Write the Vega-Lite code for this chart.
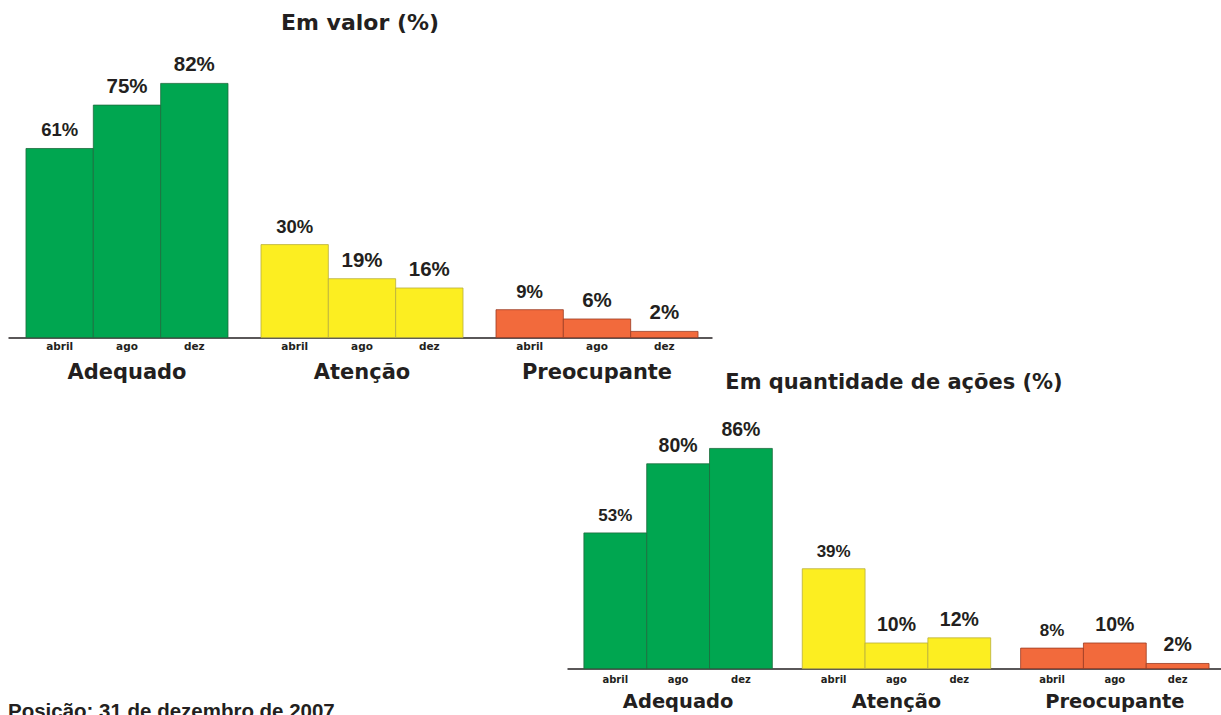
{
  "$schema": "https://vega.github.io/schema/vega-lite/v6.json",
  "padding": {"left": 8, "top": 11.6, "right": 0, "bottom": 0},
  "background": "white",
  "config": {
    "view": {"stroke": null},
    "font": "DejaVu Sans",
    "text": {"font": "DejaVu Sans", "fontWeight": "bold", "color": "#231f20"}
  },
  "datasets": {
    "bars": [
      {"panel": "valor", "group": "Adequado", "month": "abril", "value": 0.61},
      {"panel": "valor", "group": "Adequado", "month": "ago", "value": 0.75},
      {"panel": "valor", "group": "Adequado", "month": "dez", "value": 0.82},
      {"panel": "valor", "group": "Atenção", "month": "abril", "value": 0.30},
      {"panel": "valor", "group": "Atenção", "month": "ago", "value": 0.19},
      {"panel": "valor", "group": "Atenção", "month": "dez", "value": 0.16},
      {"panel": "valor", "group": "Preocupante", "month": "abril", "value": 0.09},
      {"panel": "valor", "group": "Preocupante", "month": "ago", "value": 0.06},
      {"panel": "valor", "group": "Preocupante", "month": "dez", "value": 0.02},
      {"panel": "qtd", "group": "Adequado", "month": "abril", "value": 0.53},
      {"panel": "qtd", "group": "Adequado", "month": "ago", "value": 0.80},
      {"panel": "qtd", "group": "Adequado", "month": "dez", "value": 0.86},
      {"panel": "qtd", "group": "Atenção", "month": "abril", "value": 0.39},
      {"panel": "qtd", "group": "Atenção", "month": "ago", "value": 0.10},
      {"panel": "qtd", "group": "Atenção", "month": "dez", "value": 0.12},
      {"panel": "qtd", "group": "Preocupante", "month": "abril", "value": 0.08},
      {"panel": "qtd", "group": "Preocupante", "month": "ago", "value": 0.10},
      {"panel": "qtd", "group": "Preocupante", "month": "dez", "value": 0.02}
    ],
    "note": [{"t": "Posição: 31 de dezembro de 2007"}]
  },
  "bounds": "flush",
  "spacing": 75,
  "resolve": {"scale": {"x": "independent", "xOffset": "independent", "y": "independent"}},
  "vconcat": [
    {
      "width": 704,
      "height": 310,
      "data": {"name": "bars"},
      "transform": [{"filter": "datum.panel == 'valor'"}],
      "title": {"text": "Em valor (%)", "anchor": "middle", "frame": "group", "fontSize": 22, "font": "DejaVu Sans", "fontWeight": "bold", "color": "#231f20", "offset": -7.6},
      "encoding": {
        "x": {
          "field": "group", "type": "nominal", "sort": ["Adequado", "Atenção", "Preocupante"],
          "scale": {"paddingInner": 0.1404, "paddingOuter": 0.068, "align": 0.5625},
          "axis": {"title": null, "ticks": false, "tickSize": 0, "labelAngle": 0, "labelPadding": 41, "labelBaseline": "alphabetic", "labelFont": "DejaVu Sans", "labelFontSize": 21, "labelFontWeight": "bold", "labelColor": "#231f20", "domainColor": "#231f20", "domainWidth": 1.5}
        },
        "xOffset": {"field": "month", "type": "nominal", "sort": ["abril", "ago", "dez"], "scale": {"paddingInner": 0, "paddingOuter": 0}},
        "y": {"field": "value", "type": "quantitative", "scale": {"domain": [0, 1]}, "axis": null}
      },
      "layer": [
        {
          "mark": {"type": "bar", "strokeWidth": 0.8},
          "encoding": {
            "fill": {"field": "group", "type": "nominal", "scale": {"domain": ["Adequado", "Atenção", "Preocupante"], "range": ["#00a650", "#fcee21", "#f26a3c"]}, "legend": null},
            "stroke": {"field": "group", "type": "nominal", "scale": {"domain": ["Adequado", "Atenção", "Preocupante"], "range": ["#1d6b3c", "#b8ad3c", "#9a3b22"]}, "legend": null}
          }
        },
        {
          "mark": {"type": "text", "baseline": "alphabetic", "dy": -12, "font": "Liberation Sans"},
          "encoding": {
            "text": {"field": "value", "type": "quantitative", "format": ".0%"},
            "size": {"condition": {"test": "datum.month == 'abril'", "value": 18.5}, "value": 20.5}
          }
        },
        {
          "mark": {"type": "text", "baseline": "alphabetic", "dy": 12, "fontSize": 10.5},
          "encoding": {
            "y": {"datum": 0},
            "text": {"field": "month", "type": "nominal"}
          }
        }
      ]
    },
    {
      "bounds": "flush",
      "spacing": 0,
      "resolve": {"scale": {"x": "independent", "xOffset": "independent", "y": "independent"}},
      "hconcat": [
        {
          "width": 559,
          "height": 303,
          "data": {"name": "note"},
          "mark": {"type": "text", "clip": true, "align": "left", "baseline": "alphabetic", "font": "Liberation Sans", "fontSize": 20.5, "dy": 2.5},
          "encoding": {
            "x": {"datum": 0, "type": "quantitative", "scale": {"domain": [0, 1]}, "axis": null},
            "y": {"datum": 0, "type": "quantitative", "scale": {"domain": [0, 1]}, "axis": null},
            "text": {"field": "t", "type": "nominal"}
          }
        },
        {
          "width": 654,
          "height": 256,
          "data": {"name": "bars"},
          "transform": [{"filter": "datum.panel == 'qtd'"}],
          "title": {"text": "Em quantidade de ações (%)", "anchor": "middle", "frame": "group", "fontSize": 21, "font": "DejaVu Sans", "fontWeight": "bold", "color": "#231f20", "offset": 19.6},
          "encoding": {
            "x": {
              "field": "group", "type": "nominal", "sort": ["Adequado", "Atenção", "Preocupante"],
              "scale": {"paddingInner": 0.137, "paddingOuter": 0.066, "align": 0.586},
              "axis": {"title": null, "ticks": false, "tickSize": 0, "labelAngle": 0, "labelPadding": 39, "labelBaseline": "alphabetic", "labelFont": "DejaVu Sans", "labelFontSize": 19.5, "labelFontWeight": "bold", "labelColor": "#231f20", "domainColor": "#231f20", "domainWidth": 1.5}
            },
            "xOffset": {"field": "month", "type": "nominal", "sort": ["abril", "ago", "dez"], "scale": {"paddingInner": 0, "paddingOuter": 0}},
            "y": {"field": "value", "type": "quantitative", "scale": {"domain": [0, 1]}, "axis": null}
          },
          "layer": [
            {
              "mark": {"type": "bar", "strokeWidth": 0.8},
              "encoding": {
                "fill": {"field": "group", "type": "nominal", "scale": {"domain": ["Adequado", "Atenção", "Preocupante"], "range": ["#00a650", "#fcee21", "#f26a3c"]}, "legend": null},
                "stroke": {"field": "group", "type": "nominal", "scale": {"domain": ["Adequado", "Atenção", "Preocupante"], "range": ["#1d6b3c", "#b8ad3c", "#9a3b22"]}, "legend": null}
              }
            },
            {
              "mark": {"type": "text", "baseline": "alphabetic", "dy": -12, "font": "Liberation Sans"},
              "encoding": {
                "text": {"field": "value", "type": "quantitative", "format": ".0%"},
                "size": {"condition": {"test": "datum.month == 'abril'", "value": 17}, "value": 19.5}
              }
            },
            {
              "mark": {"type": "text", "baseline": "alphabetic", "dy": 14, "fontSize": 10},
              "encoding": {
                "y": {"datum": 0},
                "text": {"field": "month", "type": "nominal"}
              }
            }
          ]
        }
      ]
    }
  ]
}
